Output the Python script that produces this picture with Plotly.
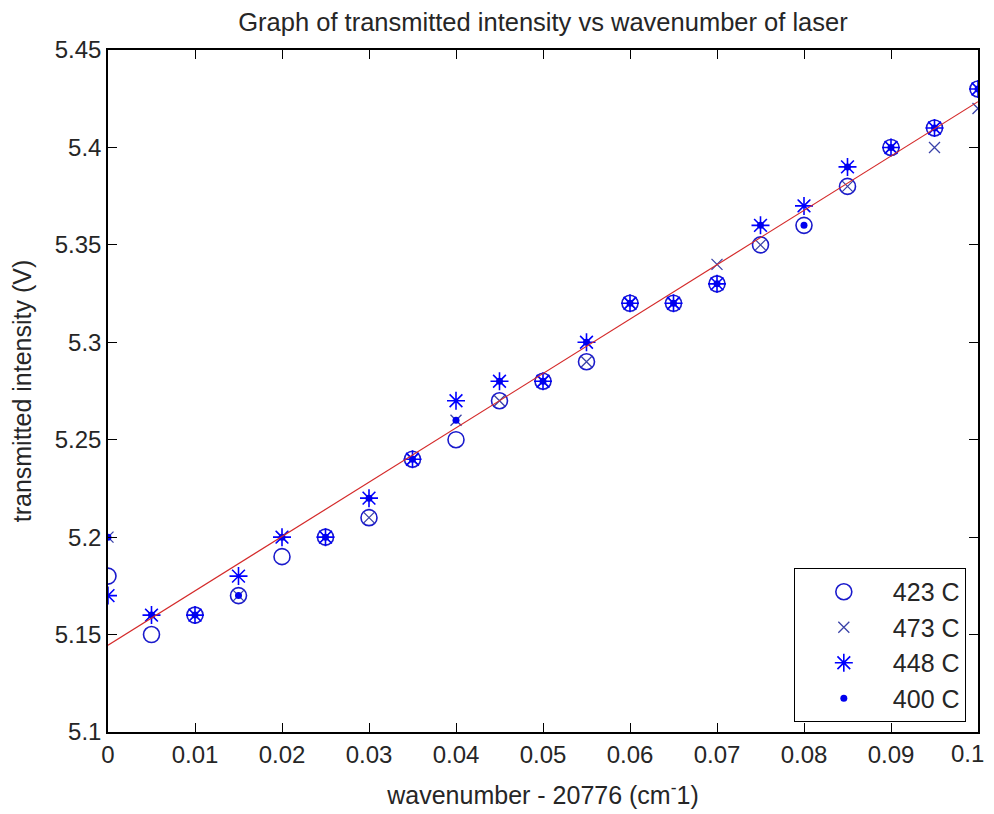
import plotly.graph_objects as go

wavenumber = [0.000, 0.005, 0.010, 0.015, 0.020, 0.025, 0.030, 0.035, 0.040, 0.045, 0.050,
              0.055, 0.060, 0.065, 0.070, 0.075, 0.080, 0.085, 0.090, 0.095, 0.100]
t423 = [5.18, 5.15, 5.16, 5.17, 5.19, 5.20, 5.21, 5.24, 5.25, 5.27, 5.28,
        5.29, 5.32, 5.32, 5.33, 5.35, 5.36, 5.38, 5.40, 5.41, 5.43]
t473 = [5.20, 5.16, 5.16, 5.17, 5.20, 5.20, 5.21, 5.24, 5.26, 5.27, 5.28,
        5.29, 5.32, 5.32, 5.34, 5.35, 5.37, 5.38, 5.40, 5.40, 5.42]
t448 = [5.17, 5.16, 5.16, 5.18, 5.20, 5.20, 5.22, 5.24, 5.27, 5.28, 5.28,
        5.30, 5.32, 5.32, 5.33, 5.36, 5.37, 5.39, 5.40, 5.41, 5.43]
t400 = [5.20, 5.16, 5.16, 5.17, 5.20, 5.20, 5.22, 5.24, 5.26, 5.28, 5.28,
        5.30, 5.32, 5.32, 5.33, 5.36, 5.36, 5.39, 5.40, 5.41, 5.43]
fit_x = [0.0, 0.1]
fit_y = [5.1445, 5.4235]

x_ticks = [0, 0.01, 0.02, 0.03, 0.04, 0.05, 0.06, 0.07, 0.08, 0.09, 0.1]
x_tick_labels = ["0", "0.01", "0.02", "0.03", "0.04", "0.05", "0.06", "0.07", "0.08", "0.09", "0.1"]
y_ticks = [5.1, 5.15, 5.2, 5.25, 5.3, 5.35, 5.4, 5.45]
y_tick_labels = ["5.1", "5.15", "5.2", "5.25", "5.3", "5.35", "5.4", "5.45"]

FONT = "Liberation Sans"
TXT = "#262626"

# The page body has an 8px margin; the plot container is 978px wide.
W, H = 978, 806

fig = go.Figure()
fig.add_trace(go.Scatter(x=wavenumber, y=t423, mode="markers", name="423 C",
                         marker=dict(symbol="circle-open", size=16, color="#1a1acc",
                                     line=dict(width=1.6, color="#1a1acc"))))
fig.add_trace(go.Scatter(x=wavenumber, y=t473, mode="markers", name="473 C",
                         marker=dict(symbol="x-thin-open", size=11, color="#3a42a8",
                                     line=dict(width=1.3, color="#3a42a8"))))
fig.add_trace(go.Scatter(x=wavenumber, y=t448, mode="markers", name="448 C",
                         marker=dict(symbol="asterisk-open", size=15, color="#0000ff",
                                     line=dict(width=1.6, color="#0000ff"))))
fig.add_trace(go.Scatter(x=wavenumber, y=t400, mode="markers", name="400 C",
                         marker=dict(symbol="circle", size=7, color="#0000ee",
                                     line=dict(width=0))))
fig.add_trace(go.Scatter(x=fit_x, y=fit_y, mode="lines", showlegend=False,
                         line=dict(color="#d42a2a", width=1.2)))

# last x tick label drawn as an annotation so that it stays inside the page edge
shown_x_labels = x_tick_labels[:-1] + [""]
fig.add_annotation(x=x_ticks[-1], xref="x", y=0, yref="paper", text=x_tick_labels[-1],
                   showarrow=False, xanchor="right", yanchor="top", xshift=8, yshift=-6,
                   font=dict(family=FONT, size=24, color=TXT))

fig.update_layout(
    width=W, height=H,
    margin=dict(l=100, r=8, t=42, b=82, autoexpand=False),
    paper_bgcolor="white", plot_bgcolor="white",
    font=dict(family=FONT, color=TXT, size=22),
    title=dict(text="Graph of transmitted intensity vs wavenumber of laser",
               xref="paper", x=0.5, xanchor="center", y=1 - 14 / H, yanchor="middle",
               font=dict(family=FONT, size=25.5, color=TXT)),
    showlegend=True,
    legend=dict(x=0.986, y=0.0147, xanchor="right", yanchor="bottom",
                bgcolor="white", bordercolor="black", borderwidth=1,
                font=dict(family=FONT, size=25, color=TXT),
                itemwidth=88, tracegroupgap=12),
)
fig.update_xaxes(range=[0, 0.1], tickvals=x_ticks, ticktext=shown_x_labels,
                 ticks="inside", ticklen=9, tickcolor="black", tickwidth=1,
                 showline=True, linecolor="black", linewidth=1.5, mirror="ticks",
                 showgrid=False, zeroline=False, automargin=False,
                 tickfont=dict(family=FONT, size=24, color=TXT),
                 title=dict(text="wavenumber - 20776 (cm<sup>-</sup>1)",
                            font=dict(family=FONT, size=25, color=TXT), standoff=20))
fig.update_yaxes(range=[5.1, 5.45], tickvals=y_ticks, ticktext=y_tick_labels,
                 ticks="inside", ticklen=9, tickcolor="black", tickwidth=1,
                 showline=True, linecolor="black", linewidth=1.5, mirror="ticks",
                 showgrid=False, zeroline=False, automargin=False,
                 tickfont=dict(family=FONT, size=24, color=TXT),
                 title=dict(text="transmitted intensity (V)",
                            font=dict(family=FONT, size=25, color=TXT), standoff=16))

fig.write_html("out.html")
